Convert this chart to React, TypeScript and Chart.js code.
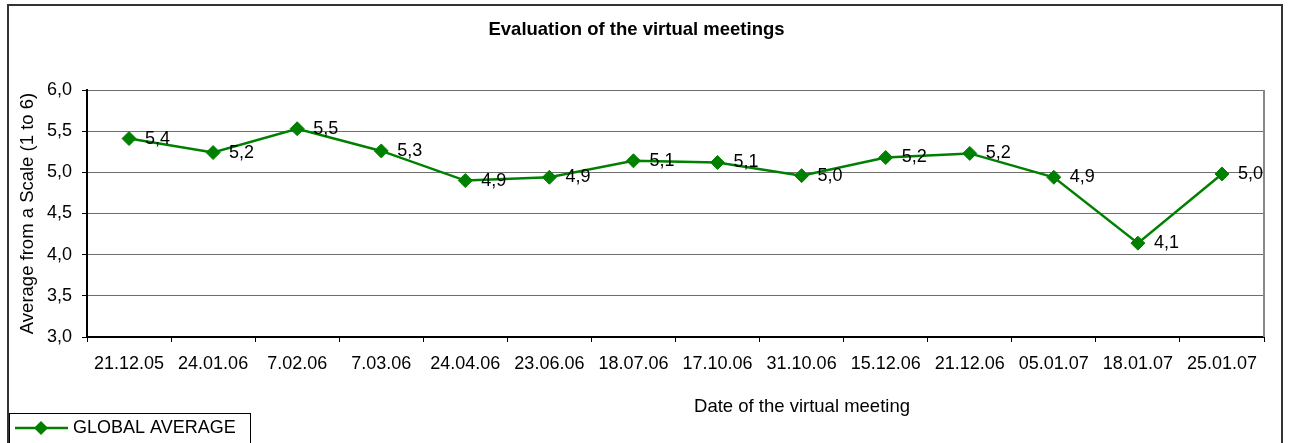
import React, { useEffect, useRef } from "react";
import { Chart, registerables } from "chart.js";

Chart.register(...registerables);

const TITLE = "Evaluation of the virtual meetings";
const X_TITLE = "Date of the virtual meeting";
const Y_TITLE = "Average from a Scale (1 to 6)";
const SERIES_NAME = "GLOBAL AVERAGE";

const dates = [
  "21.12.05", "24.01.06", "7.02.06", "7.03.06", "24.04.06", "23.06.06", "18.07.06",
  "17.10.06", "31.10.06", "15.12.06", "21.12.06", "05.01.07", "18.01.07", "25.01.07",
];
const averages = [5.41, 5.24, 5.53, 5.26, 4.9, 4.94, 5.14, 5.12, 4.96, 5.18, 5.23, 4.94, 4.14, 4.98];

const Y_MIN = 3;
const Y_MAX = 6;
const Y_STEP = 0.5;

const FONT = '"Liberation Sans", Arial, sans-serif';
const GREEN = "#008000";

const fmt = (v: number) => v.toFixed(1).replace(".", ",");

const decorPlugin = {
  id: "decor",
  afterDraw(chart: any) {
    const { ctx, chartArea } = chart;
    ctx.save();
    // outer frame
    ctx.strokeStyle = "#333";
    ctx.lineWidth = 2;
    ctx.strokeRect(8, 5, 1274, 470);
    // plot right border
    ctx.strokeStyle = "#888";
    ctx.lineWidth = 2;
    ctx.beginPath();
    ctx.moveTo(chartArea.right, chartArea.top);
    ctx.lineTo(chartArea.right, chartArea.bottom);
    ctx.stroke();
    // x axis title
    ctx.fillStyle = "#000";
    ctx.font = `18.5px ${FONT}`;
    ctx.textAlign = "center";
    ctx.textBaseline = "middle";
    ctx.fillText(X_TITLE, 802, 407);
    // legend
    ctx.strokeStyle = "#000";
    ctx.lineWidth = 1;
    ctx.strokeRect(9.5, 413.5, 241, 50);
    ctx.strokeStyle = GREEN;
    ctx.lineWidth = 2.5;
    ctx.beginPath();
    ctx.moveTo(15, 428);
    ctx.lineTo(68, 428);
    ctx.stroke();
    ctx.fillStyle = GREEN;
    ctx.beginPath();
    ctx.moveTo(41, 421);
    ctx.lineTo(48, 428);
    ctx.lineTo(41, 435);
    ctx.lineTo(34, 428);
    ctx.closePath();
    ctx.fill();
    ctx.fillStyle = "#000";
    ctx.font = `18px ${FONT}`;
    ctx.textAlign = "left";
    ctx.fillText(SERIES_NAME, 73, 428);
    ctx.restore();
  },
  afterDatasetsDraw(chart: any) {
    const { ctx } = chart;
    const meta = chart.getDatasetMeta(0);
    ctx.save();
    ctx.fillStyle = "#000";
    ctx.font = `18px ${FONT}`;
    ctx.textAlign = "left";
    ctx.textBaseline = "middle";
    meta.data.forEach((pt: any, i: number) => {
      ctx.fillText(fmt(averages[i]), pt.x + 16, pt.y);
    });
    ctx.restore();
  },
};

export default function App() {
  const ref = useRef<HTMLCanvasElement | null>(null);

  useEffect(() => {
    if (!ref.current) return;
    const chart = new Chart(ref.current, {
      type: "line",
      data: {
        labels: dates,
        datasets: [
          {
            label: SERIES_NAME,
            data: averages,
            borderColor: GREEN,
            backgroundColor: GREEN,
            borderWidth: 2.5,
            pointStyle: "rectRot",
            pointRadius: 7,
            pointBorderWidth: 1,
            pointBackgroundColor: GREEN,
            pointBorderColor: GREEN,
            tension: 0,
            fill: false,
          },
        ],
      },
      options: {
        animation: false,
        responsive: false,
        devicePixelRatio: 1,
        layout: { padding: { left: 9, top: 6, right: 26, bottom: 0 } },
        plugins: {
          legend: { display: false },
          tooltip: { enabled: false },
          title: {
            display: true,
            text: TITLE,
            color: "#000",
            font: { family: FONT, size: 18.5, weight: "bold" },
            padding: { top: 12.6, bottom: 49.2 },
          },
        },
        scales: {
          x: {
            type: "category",
            offset: true,
            grid: {
              offset: true,
              drawOnChartArea: false,
              drawTicks: true,
              tickLength: 5,
              tickColor: "#000",
              tickWidth: 1,
            },
            border: { color: "#000", width: 2 },
            ticks: {
              color: "#000",
              font: { family: FONT, size: 18 },
              padding: 11,
              maxRotation: 0,
              autoSkip: false,
            },
            afterFit: (scale: any) => {
              scale.height = 106;
            },
          },
          y: {
            min: Y_MIN,
            max: Y_MAX,
            grid: {
              color: "#6e6e6e",
              lineWidth: 1,
              drawTicks: true,
              tickLength: 5,
              tickColor: "#000",
            },
            border: { color: "#000", width: 2 },
            ticks: {
              stepSize: Y_STEP,
              color: "#000",
              font: { family: FONT, size: 18 },
              padding: 10,
              callback: (v: any) => fmt(Number(v)),
            },
            title: {
              display: true,
              text: Y_TITLE,
              color: "#000",
              font: { family: FONT, size: 18.5 },
              padding: { top: 8, bottom: 0 },
            },
            afterFit: (scale: any) => {
              scale.width = 78;
            },
          },
        },
      },
      plugins: [decorPlugin],
    });
    return () => chart.destroy();
  }, []);

  return (
    <div style={{ position: "absolute", left: 0, top: 0, width: 1290, height: 443, overflow: "hidden", background: "#fff" }}>
      <canvas ref={ref} width={1290} height={443} style={{ width: 1290, height: 443, display: "block" }} />
    </div>
  );
}
